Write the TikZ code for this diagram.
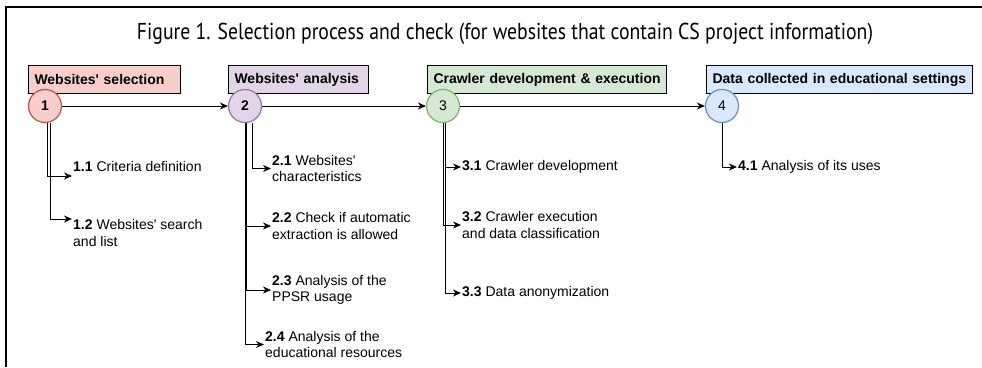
\documentclass[tikz,border=0pt]{standalone}
\usepackage{fontspec}
\setmainfont{Liberation Sans}
\newfontfamily\titlefont{PT Sans}
\usetikzlibrary{arrows.meta}

\definecolor{redfill}{HTML}{F8CECC}
\definecolor{redline}{HTML}{B85450}
\definecolor{purplefill}{HTML}{E1D5E7}
\definecolor{purpleline}{HTML}{9673A6}
\definecolor{greenfill}{HTML}{D5E8D4}
\definecolor{greenline}{HTML}{82B366}
\definecolor{bluefill}{HTML}{DAE8FC}
\definecolor{blueline}{HTML}{6C8EBF}

\newcommand{\q}{\textquotesingle}

\begin{document}
\begin{tikzpicture}[x=1pt,y=-1pt,font=\fontsize{14}{16.5}\selectfont,
    phase/.style={draw=black,line width=1pt,anchor=north west,minimum height=28pt,
        inner xsep=6pt,inner ysep=0pt,align=left,font=\fontsize{14}{16.5}\selectfont\bfseries},
    stepnum/.style={circle,line width=1.2pt,minimum size=33pt,inner sep=0pt},
    task/.style={anchor=west,align=left,inner xsep=1pt,inner ysep=0pt},
    flow/.style={-{Stealth[length=8pt,width=7pt,inset=2.5pt]},line width=1pt}]
    \useasboundingbox (0,0) rectangle (982,367);
    % frame and title
    \draw[line width=2pt] (982,7) -- (6,7) -- (6,367);
    \node (title) at (505,34) {\titlefont\fontsize{20}{24}\selectfont\resizebox{736pt}{1.15\height}{Figure 1. Selection process and check (for websites that contain CS project information)}};

    % phases
    \node[phase,fill=redfill,text width=140pt] (b1) at (28,65) {\mbox{Websites\q{} selection}};
    \node[phase,fill=purplefill,text width=128pt] (b2) at (228,65) {\mbox{Websites\q{} analysis}};
    \node[phase,fill=greenfill,text width=227pt] (b3) at (427,65) {\mbox{Crawler development \& execution}};
    \node[phase,fill=bluefill,text width=254pt] (b4) at (706,65) {\mbox{Data collected in educational settings}};

    \node[stepnum,fill=redfill,draw=redline] (c1) at (45,106) {\textbf{1}};
    \node[stepnum,fill=purplefill,draw=purpleline] (c2) at (245,106) {\textbf{2}};
    \node[stepnum,fill=greenfill,draw=greenline] (c3) at (443,106) {3};
    \node[stepnum,fill=bluefill,draw=blueline] (c4) at (722,106) {4};

    \draw[flow] (c1) -- (c2);
    \draw[flow] (c2) -- (c3);
    \draw[flow] (c3) -- (c4);

    % tasks
    \node[task] (s11) at (72,166) {\textbf{1.1} Criteria definition};
    \node[task] (s12) at (72,233) {\textbf{1.2} Websites\q{} search\\and list};
    \node[task] (s21) at (271,168.5) {\textbf{2.1} Websites\q\\characteristics};
    \node[task] (s22) at (271,226) {\textbf{2.2} Check if automatic\\extraction is allowed};
    \node[task] (s23) at (271,290) {\textbf{2.3} Analysis of the\\PPSR usage};
    \node[task] (s24) at (264,344.5) {\textbf{2.4} Analysis of the\\educational resources};
    \node[task] (s31) at (461,167) {\textbf{3.1} Crawler development};
    \node[task] (s32) at (461,225) {\textbf{3.2} Crawler execution\\and data classification};
    \node[task] (s33) at (461,293) {\textbf{3.3} Data anonymization};
    \node[task] (s41) at (737,167) {\textbf{4.1} Analysis of its uses};

    \draw[flow] ([xshift=2pt]c1.south) |- ([yshift=-10pt]s11.west);
    \draw[flow] ([xshift=5pt]c1.south) |- ([yshift=14pt]s12.west);
    \draw[flow] ([xshift=7pt]c2.south) |- (s21.west);
    \draw[flow] ([xshift=1pt]c2.south) |- (s22.west);
    \draw[flow] ([xshift=1pt]c2.south) |- (s23.west);
    \draw[flow] (c2.south) |- (s24.west);
    \draw[flow] ([xshift=2pt]c3.south) |- (s31.west);
    \draw[flow] (c3.south) |- (s32.west);
    \draw[flow] ([xshift=2pt]c3.south) |- (s33.west);
    \draw[flow] (c4.south) |- (s41.west);
\end{tikzpicture}
\end{document}
